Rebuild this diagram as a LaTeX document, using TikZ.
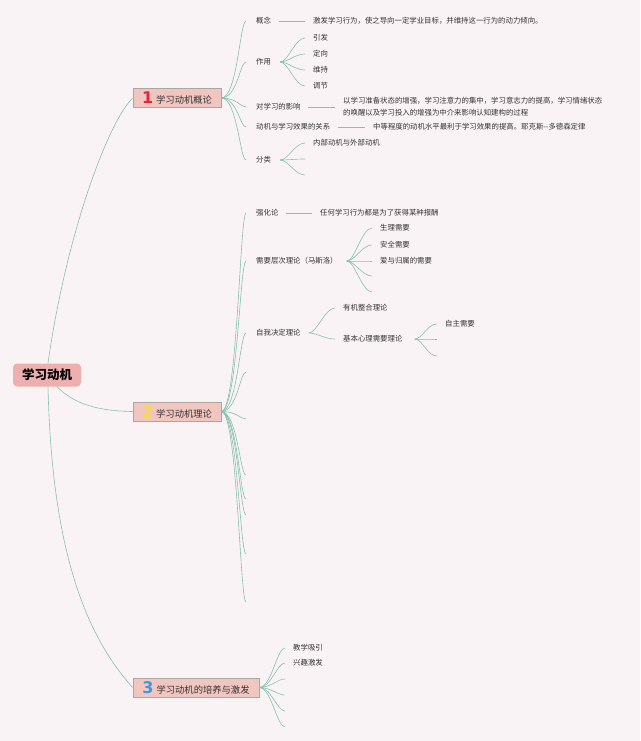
\documentclass[tikz,border=0pt]{standalone}
\usepackage{fontspec}
\setmainfont{Noto Sans CJK SC}
\newfontfamily\numfont{DejaVu Sans}
\definecolor{bg}{HTML}{FAF3F5}
\definecolor{lnk}{HTML}{86C2AC}
\definecolor{boxfill}{HTML}{F2C6C0}
\definecolor{boxline}{HTML}{A8A8A0}
\definecolor{rootfill}{HTML}{EDB0AE}
\definecolor{txt}{HTML}{333333}
\definecolor{nA}{HTML}{E8233A}
\definecolor{nB}{HTML}{F6DA4E}
\definecolor{nC}{HTML}{3A9AD8}
\newcommand\bnum[2]{{\numfont\bfseries\fontsize{16}{16}\selectfont\textcolor{#1}{#2}}\hspace{3pt}}
\begin{document}
\begin{tikzpicture}[x=1pt,y=-1pt,
  leaf/.style={anchor=west,inner sep=0pt,text=txt,font=\fontsize{7.4}{12}\selectfont},
  branchbox/.style={draw=boxline,fill=boxfill,line width=0.6pt,inner sep=0pt,minimum height=19pt,text=txt,font=\fontsize{9.3}{11}\selectfont},
  rootbox/.style={fill=rootfill,rounded corners=4pt,minimum width=68pt,minimum height=23pt,inner sep=0pt,text=black,font=\fontsize{12.5}{14}\selectfont\bfseries},
  link/.style={draw=lnk,line width=0.6pt}]

\path[fill=bg] (0,0) rectangle (640,741);

% root and branches
\node[rootbox] (root) at (47,375) {学习动机};
\node[branchbox,minimum width=88pt] (b1) at (177,98) {\bnum{nA}{1}学习动机概论};
\node[branchbox,minimum width=88pt] (b2) at (177,411.5) {\bnum{nB}{2}学习动机理论};
\node[branchbox,minimum width=126pt] (b3) at (196,687.5) {\bnum{nC}{3}学习动机的培养与激发};

\draw[link] ([xshift=1pt]root.north) .. controls (66,235) and (108,122) .. (b1.west);
\draw[link] ([xshift=10pt]root.south) .. controls (75,405) and (100,411) .. (b2.west);
\draw[link] ([xshift=1pt]root.south) .. controls (52,560) and (90,640) .. (b3.west);

% ---------- branch 1 ----------
\node[leaf] (t11) at (256,21) {概念};
\node[leaf] (d11) at (313,21) {激发学习行为，使之导向一定学业目标，并维持这一行为的动力倾向。};
\node[leaf] (t12) at (256,62) {作用};
\node[leaf] (d12a) at (313,38) {引发};
\node[leaf] (d12b) at (313,54) {定向};
\node[leaf] (d12c) at (313,70) {维持};
\node[leaf] (d12d) at (313,86) {调节};
\node[leaf] (t13) at (256,107) {对学习的影响};
\node[leaf,align=left] (d13) at (343,107) {以学习准备状态的增强，学习注意力的集中，学习意志力的提高，学习情绪状态\\的唤醒以及学习投入的增强为中介来影响认知建构的过程};
\node[leaf] (t14) at (256,127) {动机与学习效果的关系};
\node[leaf] (d14) at (373,127) {中等程度的动机水平最利于学习效果的提高。耶克斯{-}{-}多德森定律};
\node[leaf] (t15) at (256,160) {分类};
\node[leaf] (d15a) at (313,143) {内部动机与外部动机};
\coordinate (d15b) at (305,159);
\coordinate (d15c) at (305,175);

\foreach \t in {t11,t12,t13,t14,t15}
  \draw[link] (b1.east) .. controls +(16,0) and +(-6,0) .. ([xshift=-10pt]\t.west);
\foreach \a/\b in {t11/d11,t13/d13,t14/d14}
  \draw[link] ([xshift=7.5pt]\a.east) -- ([xshift=-8pt]\b.west);
\foreach \d in {d12a,d12b,d12c,d12d}
  \draw[link] ([xshift=9pt]t12.east) .. controls +(8,0) and +(-10,0) .. ([xshift=-8pt]\d.west);
\draw[link] ([xshift=9pt]t15.east) .. controls +(8,0) and +(-10,0) .. ([xshift=-8pt]d15a.west);
\foreach \d in {d15b,d15c}
  \draw[link] ([xshift=9pt]t15.east) .. controls +(8,0) and +(-10,0) .. (\d);

% ---------- branch 2 ----------
\node[leaf] (t21) at (256,213) {强化论};
\node[leaf] (d21) at (320,213) {任何学习行为都是为了获得某种报酬};
\node[leaf] (t22) at (256,261) {需要层次理论（马斯洛）};
\node[leaf] (d22a) at (380,228) {生理需要};
\node[leaf] (d22b) at (380,245) {安全需要};
\node[leaf] (d22c) at (380,261) {爱与归属的需要};
\coordinate (d22d) at (372,276);
\coordinate (d22e) at (372,292);
\node[leaf] (t23) at (256,333) {自我决定理论};
\node[leaf] (d23a) at (343,308) {有机整合理论};
\node[leaf] (d23b) at (343,339) {基本心理需要理论};
\node[leaf] (e1) at (445,324) {自主需要};
\coordinate (e2) at (437,339);
\coordinate (e3) at (437,356);
\coordinate (t24) at (246,372);
\coordinate (t25) at (246,419);
\coordinate (t26) at (246,475);
\coordinate (t27) at (246,499);
\coordinate (t28) at (246,515);
\coordinate (t29) at (246,554);
\coordinate (t2x) at (246,602);

\foreach \t in {t21,t22,t23}
  \draw[link] (b2.east) .. controls +(16,0) and +(-6,0) .. ([xshift=-10pt]\t.west);
\foreach \t in {t24,t25,t26,t27,t28,t29,t2x}
  \draw[link] (b2.east) .. controls +(16,0) and +(-6,0) .. (\t);
\draw[link] ([xshift=7.5pt]t21.east) -- ([xshift=-8pt]d21.west);
\foreach \d in {d22a,d22b,d22c}
  \draw[link] ([xshift=9pt]t22.east) .. controls +(8,0) and +(-10,0) .. ([xshift=-8pt]\d.west);
\foreach \d in {d22d,d22e}
  \draw[link] ([xshift=9pt]t22.east) .. controls +(8,0) and +(-10,0) .. (\d);
\foreach \d in {d23a,d23b}
  \draw[link] ([xshift=8pt]t23.east) .. controls +(8,0) and +(-10,0) .. ([xshift=-8pt]\d.west);
\draw[link] ([xshift=12pt]d23b.east) .. controls +(8,0) and +(-10,0) .. ([xshift=-8pt]e1.west);
\foreach \d in {e2,e3}
  \draw[link] ([xshift=12pt]d23b.east) .. controls +(8,0) and +(-10,0) .. (\d);

% ---------- branch 3 ----------
\node[leaf] (t31) at (293,648) {教学吸引};
\node[leaf] (t32) at (293,663) {兴趣激发};
\coordinate (t33) at (285,679);
\coordinate (t34) at (285,695);
\coordinate (t35) at (285,711);
\coordinate (t36) at (285,727);
\foreach \t in {t31,t32}
  \draw[link] (b3.east) .. controls +(12,0) and +(-8,0) .. ([xshift=-8pt]\t.west);
\foreach \t in {t33,t34,t35,t36}
  \draw[link] (b3.east) .. controls +(12,0) and +(-8,0) .. (\t);
\end{tikzpicture}
\end{document}
